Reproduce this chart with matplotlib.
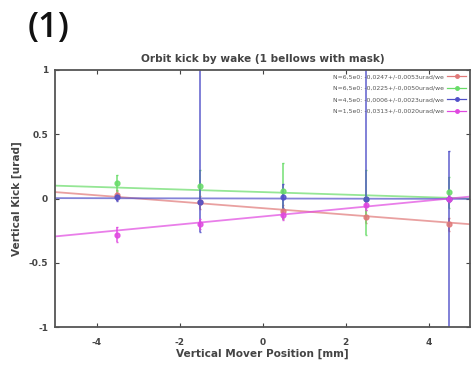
import matplotlib
matplotlib.use("Agg")
import matplotlib.pyplot as plt
import numpy as np

plt.rcParams["axes.unicode_minus"] = False

# mover positions [mm]
positions = [-3.5, -1.5, 0.5, 2.5, 4.5]

# measured kicks [urad] and error bars (lower, upper)
red_kick = [0.03, -0.03, -0.10, -0.14, -0.20]
red_err = [[0.04, 0.05, 0.05, 0.05, 0.05], [0.04, 0.05, 0.05, 0.05, 0.05]]
green_kick = [0.12, 0.10, 0.06, 0.00, 0.05]
green_err = [[0.06, 0.12, 0.22, 0.28, 0.12], [0.06, 0.12, 0.22, 0.22, 0.12]]
blue_kick = [0.01, -0.03, 0.01, 0.00, 0.00]
blue_err = [[0.03, 0.23, 0.08, 0.06, 1.20], [0.03, 1.20, 0.10, 1.20, 0.37]]
magenta_kick = [-0.28, -0.20, -0.13, -0.05, 0.00]
magenta_err = [[0.06, 0.04, 0.04, 0.04, 0.03], [0.06, 0.04, 0.04, 0.04, 0.03]]

# linear fits: kick = intercept + slope * position
fit_intercept = [-0.075, 0.05, 0.0, -0.14]
fit_slope = [-0.025, -0.010, -0.0006, 0.031]

labels = [
    "N=6,5e0: -0,0247+/-0,0053urad/we",
    "N=6,5e0: -0,0225+/-0,0050urad/we",
    "N=4,5e0: -0,0006+/-0,0023urad/we",
    "N=1,5e0: -0,0313+/-0,0020urad/we",
]
colors = ["#e07878", "#68dc68", "#5050c8", "#e048e0"]

fig = plt.figure(figsize=(4.71, 3.70), dpi=100)
ax = fig.add_axes([0.117, 0.116, 0.881, 0.695])

series = [
    (red_kick, red_err),
    (green_kick, green_err),
    (blue_kick, blue_err),
    (magenta_kick, magenta_err),
]
xs = np.array([-5.0, 5.0])
for (kick, err), a, b, col in zip(series, fit_intercept, fit_slope, colors):
    ax.errorbar(positions, kick, yerr=err, fmt="o", ms=3.5, color=col,
                ecolor=col, elinewidth=1.2, capsize=1.0, alpha=0.85)
    ax.plot(xs, a + b * xs, color=col, lw=1.3, alpha=0.7)

handles = [plt.Line2D([0], [0], color=c, lw=0.9, marker="o", ms=2.5) for c in colors]
leg = ax.legend(handles, labels, loc="upper right", frameon=False, fontsize=4.4,
                markerfirst=False, handlelength=3.0, labelspacing=1.0,
                borderaxespad=0.3, numpoints=1, handletextpad=0.6)
for t in leg.get_texts():
    t.set_color("#555555")

ax.set_xlim(-5, 5)
ax.set_ylim(-1, 1)
ax.set_xticks([-4, -2, 0, 2, 4])
ax.set_yticks([-1, -0.5, 0, 0.5, 1])
ax.set_yticklabels(["-1", "-0.5", "0", "0.5", "1"])
ax.tick_params(direction="in", top=True, right=True, length=3, labelsize=6.5,
               colors="#444444", labelcolor="#444444")
ax.tick_params(axis="x", pad=8)
ax.tick_params(axis="y", pad=5)
for lab in ax.get_xticklabels() + ax.get_yticklabels():
    lab.set_fontweight("bold")
for s in ax.spines.values():
    s.set_color("#555555")
    s.set_linewidth(1.3)

ax.set_title("Orbit kick by wake (1 bellows with mask)", fontsize=7.6,
             fontweight="bold", color="#444444", pad=6)
ax.set_xlabel("Vertical Mover Position [mm]", fontsize=7.6, fontweight="bold",
              color="#444444", labelpad=1)
ax.set_ylabel("Vertical Kick [urad]", fontsize=7.6, fontweight="bold",
              color="#444444", labelpad=5)

fig.text(0.058, 0.97, "(1)", fontsize=25, va="top", ha="left", color="#111111",
         family="Open Sans", fontweight="semibold")

fig.savefig("out.png", dpi=100)
